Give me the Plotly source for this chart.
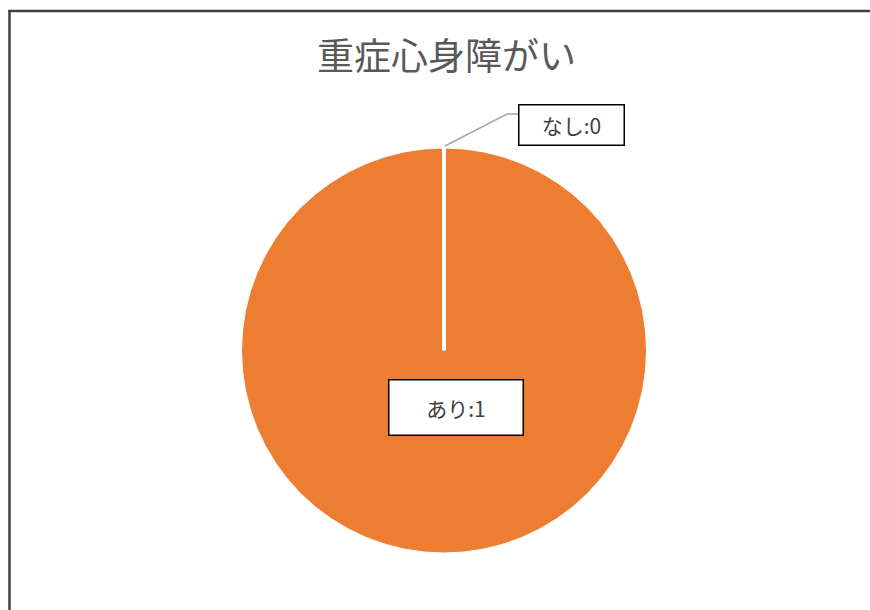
import plotly.graph_objects as go

title_text = "重症心身障がい"
categories = ["なし", "あり"]
values = [0, 1]

W, H = 870, 610
def px(x): return x / W
def py(y): return 1 - y / H

cx, cy, r = 444, 350.5, 202.5

fig = go.Figure(go.Pie(
    labels=categories,
    values=values,
    sort=False,
    direction="clockwise",
    rotation=0,
    marker=dict(colors=["#4472C4", "#ED7D31"], line=dict(color="#FFFFFF", width=1)),
    textinfo="none",
    hoverinfo="label+value",
    showlegend=False,
    domain=dict(x=[px(cx - r), px(cx + r)], y=[py(cy + r), py(cy - r)]),
))

# white boundary of the zero-valued slice (from centre to top)
fig.add_shape(type="line", xref="paper", yref="paper",
              x0=px(cx), y0=py(cy), x1=px(cx), y1=py(cy - r - 2),
              line=dict(color="#FFFFFF", width=4))

font_lbl = dict(family="Noto Sans CJK JP", size=21, color="#404040")
label_texts = [f"{c}:{v}" for c, v in zip(categories, values)]

fig.add_annotation(x=px(571), y=py(125), xref="paper", yref="paper",
                   xanchor="center", yanchor="middle",
                   text=label_texts[0], showarrow=False, font=font_lbl,
                   bgcolor="#FFFFFF", bordercolor="#000000", borderwidth=1.5,
                   width=104, height=39, borderpad=0)
fig.add_annotation(x=px(456), y=py(407), xref="paper", yref="paper",
                   xanchor="center", yanchor="middle",
                   text=label_texts[1], showarrow=False, font=font_lbl,
                   bgcolor="#FFFFFF", bordercolor="#000000", borderwidth=1.5,
                   width=133, height=54, borderpad=0)

# leader line for the zero slice
fig.add_shape(type="path", xref="paper", yref="paper",
              path=f"M {px(445)},{py(146)} L {px(507)},{py(114)} L {px(518)},{py(114)}",
              line=dict(color="#A6A6A6", width=1.5))

# chart frame (left and top edges visible)
fig.add_shape(type="line", xref="paper", yref="paper",
              x0=px(9.5), y0=-0.02, x1=px(9.5), y1=py(10),
              line=dict(color="#404040", width=2.5))
fig.add_shape(type="line", xref="paper", yref="paper",
              x0=px(8.3), y0=py(11), x1=1.02, y1=py(11),
              line=dict(color="#404040", width=2.5))

fig.update_layout(
    width=W, height=H,
    margin=dict(l=0, r=0, t=0, b=0),
    paper_bgcolor="#FFFFFF",
    plot_bgcolor="#FFFFFF",
    title=dict(text=title_text, x=px(446.5), xanchor="center", y=py(57), yanchor="middle",
               font=dict(family="Noto Sans CJK JP", size=37, color="#595959")),
)

fig.write_html(
    "out.html",
    config={"displayModeBar": False},
    post_script=(
        "document.documentElement.style.overflow='hidden';"
        "document.body.style.margin='0';"
        "document.body.style.overflow='hidden';"
    ),
)
